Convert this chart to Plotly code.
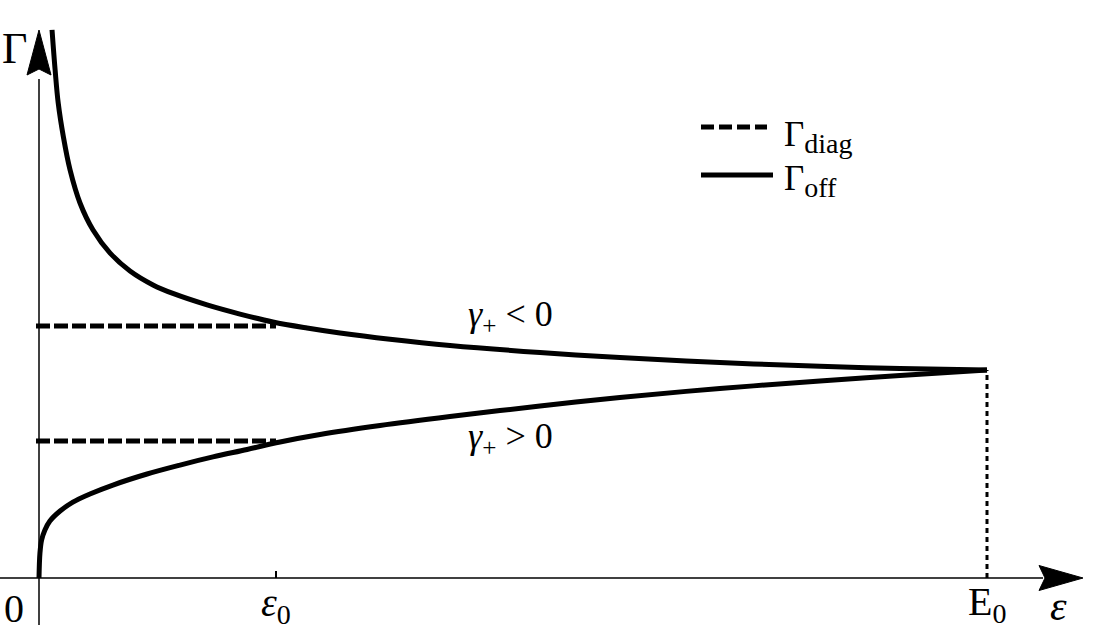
import plotly.graph_objects as go

# ---------------- data (eps in units of eps0, Gamma in units of the meeting value) ----
eps_upper = [0.055, 0.068, 0.081, 0.103, 0.131, 0.173, 0.228, 0.300, 0.384, 0.481, 0.565,
             0.709, 0.848, 0.987, 1.131, 1.270, 1.481, 1.734, 2.114, 2.451, 2.873, 3.295, 3.633, 4.0]
gamma_upper = [2.635, 2.442, 2.284, 2.120, 1.962, 1.803, 1.673, 1.562, 1.476, 1.409, 1.368,
               1.313, 1.269, 1.231, 1.202, 1.178, 1.148, 1.118, 1.084, 1.060, 1.036, 1.018, 1.007, 1.0]

eps_lower = [0.0, 0.004, 0.011, 0.025, 0.046, 0.089, 0.143, 0.215, 0.312, 0.456, 0.595,
             0.734, 0.878, 1.017, 1.186, 1.439, 1.734, 2.114, 2.451, 2.873, 3.295, 3.633, 4.0]
gamma_lower = [0.0, 0.120, 0.183, 0.231, 0.274, 0.322, 0.365, 0.404, 0.447, 0.500, 0.543,
               0.582, 0.618, 0.654, 0.690, 0.733, 0.776, 0.827, 0.868, 0.911, 0.947, 0.974, 1.0]

gamma_diag = [1.212, 0.659]      # dashed levels
eps_diag_end = 1.0
eps0 = 1.0
E0 = 4.0
gamma_meet = 1.0

# ---------------- layout geometry ----------------
W, H = 1112, 631
X0_PX, Y0_PX = 39, 578      # pixel position of the origin
SX, SY = 237.0, 208.0       # pixels per unit
x_range = [-X0_PX / SX, (W - X0_PX) / SX]
y_range = [-(H - Y0_PX) / SY, Y0_PX / SY]

def dx(p):
    return p / SX

def dy(p):
    return p / SY

def px(xp):
    return xp / W

def py(yp):
    return 1 - yp / H

FONT = "Liberation Serif, Times New Roman, DejaVu Serif, serif"
BLACK = "black"

fig = go.Figure()

# dashed Gamma_diag levels
for g in gamma_diag:
    fig.add_trace(go.Scatter(x=[-dx(3), eps_diag_end], y=[g, g], mode="lines",
                             line=dict(color=BLACK, width=5, dash="14px,4px"),
                             hoverinfo="skip"))

# Gamma_off curves
fig.add_trace(go.Scatter(x=eps_upper, y=gamma_upper, mode="lines",
                         line=dict(color=BLACK, width=5, shape="spline", smoothing=1.0),
                         hoverinfo="skip"))
fig.add_trace(go.Scatter(x=eps_lower, y=gamma_lower, mode="lines",
                         line=dict(color=BLACK, width=5, shape="spline", smoothing=1.0),
                         hoverinfo="skip"))

shapes = []
# x axis line + arrow
x_tip = x_range[1] - dx(29)
x_base = x_tip - dx(44)
shapes.append(dict(type="line", xref="x", yref="y", x0=x_range[0], x1=x_base + dx(4), y0=0, y1=0,
                   line=dict(color=BLACK, width=1.5)))
shapes.append(dict(type="path", xref="x", yref="y",
                   path=f"M {x_tip},0 L {x_base},{dy(12.5)} L {x_base + dx(6)},0 L {x_base},{-dy(12.5)} Z",
                   fillcolor=BLACK, line=dict(color=BLACK, width=1)))
# y axis line + arrow
y_tip = y_range[1] - dy(30)
y_base = y_tip - dy(45)
shapes.append(dict(type="line", xref="x", yref="y", x0=0, x1=0, y0=-dy(47), y1=y_base - dy(4),
                   line=dict(color=BLACK, width=1.5)))
shapes.append(dict(type="path", xref="x", yref="y",
                   path=f"M 0,{y_tip} L {dx(12)},{y_base} L 0,{y_base + dy(6)} L {-dx(12)},{y_base} Z",
                   fillcolor=BLACK, line=dict(color=BLACK, width=1)))
# eps0 tick
shapes.append(dict(type="line", xref="x", yref="y", x0=eps0, x1=eps0, y0=0, y1=dy(7),
                   line=dict(color=BLACK, width=2)))
# dotted drop line at E0
shapes.append(dict(type="line", xref="x", yref="y", x0=E0, x1=E0, y0=0, y1=gamma_meet,
                   line=dict(color=BLACK, width=3, dash="5px,4px")))
# legend samples
shapes.append(dict(type="line", xref="paper", yref="paper", x0=px(701), x1=px(767), y0=py(127), y1=py(127),
                   line=dict(color=BLACK, width=5, dash="13px,5px")))
shapes.append(dict(type="line", xref="paper", yref="paper", x0=px(701), x1=px(773), y0=py(175), y1=py(175),
                   line=dict(color=BLACK, width=5)))

ann = []
def text(x, y, s, size, xref="paper", yref="paper", xanchor="center", yanchor="middle"):
    ann.append(dict(x=x, y=y, xref=xref, yref=yref, text=s, showarrow=False,
                    xanchor=xanchor, yanchor=yanchor,
                    font=dict(family=FONT, size=size, color=BLACK)))

SP = "\u2005"
SUBLEG = "<span style='font-size:28px'>{}</span>"
text(px(14), py(48), "Γ", 44)
text(px(14), py(608), "0", 40)
text(eps0, py(605), "<i>ε</i><sub>0</sub>", 40, xref="x")
text(E0, py(604), "E<sub>0</sub>", 40, xref="x")
text(px(1058), py(606), "<i>ε</i>", 42)
text(px(782), py(137), "Γ<sub>" + SUBLEG.format("diag") + "</sub>", 35, xanchor="left")
text(px(782), py(181), "Γ<sub>" + SUBLEG.format("off") + "</sub>", 35, xanchor="left")
text(px(511), py(316), "<i>γ</i><sub>+</sub>" + SP + "&lt;" + SP + "0", 36)
text(px(511), py(438), "<i>γ</i><sub>+</sub>" + SP + "&gt;" + SP + "0", 36)

fig.update_layout(
    width=W, height=H, margin=dict(l=0, r=0, t=0, b=0),
    paper_bgcolor="white", plot_bgcolor="white", showlegend=False,
    xaxis=dict(visible=False, range=x_range, fixedrange=True),
    yaxis=dict(visible=False, range=y_range, fixedrange=True),
    shapes=shapes, annotations=ann,
)
fig.write_html("out.html", config={"displayModeBar": False},
               post_script="document.body.style.margin='0';")
